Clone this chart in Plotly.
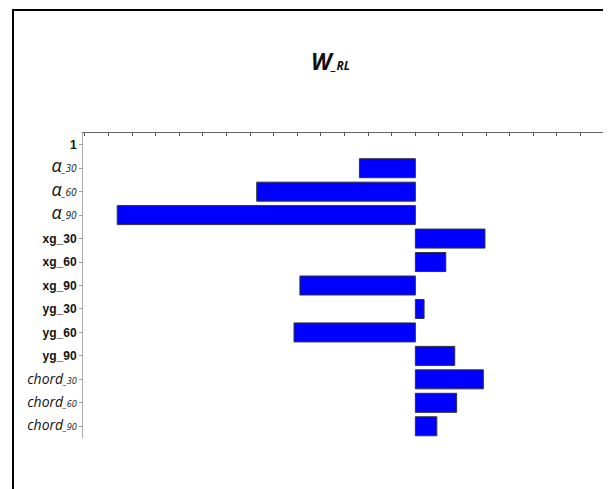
import plotly.graph_objects as go

categories = ["1", "alpha_30", "alpha_60", "alpha_90", "xg_30", "xg_60", "xg_90",
              "yg_30", "yg_60", "yg_90", "chord_30", "chord_60", "chord_90"]
values = [0.0, -2.37, -6.72, -12.63, 2.95, 1.29, -4.89,
          0.37, -5.14, 1.67, 2.88, 1.75, 0.91]

BOLD = "font-family:'Liberation Sans';font-weight:bold;font-size:12px"
def ital(main, sub, main_size, sub_size):
    return (f"<span style=\"font-family:'Open Sans';font-style:italic;font-size:{main_size}px\">{main}</span>"
            f"<span style=\"font-family:'Open Sans';font-style:italic;font-size:{sub_size}px\">_{sub}</span>")

tick_labels = [
    f"<span style=\"{BOLD}\">1</span>",
    ital("α", "30", 18, 10),
    ital("α", "60", 18, 10),
    ital("α", "90", 18, 10),
    f"<span style=\"{BOLD}\">xg_30</span>",
    f"<span style=\"{BOLD}\">xg_60</span>",
    f"<span style=\"{BOLD}\">xg_90</span>",
    f"<span style=\"{BOLD}\">yg_30</span>",
    f"<span style=\"{BOLD}\">yg_60</span>",
    f"<span style=\"{BOLD}\">yg_90</span>",
    ital("chord", "30", 14, 9),
    ital("chord", "60", 14, 9),
    ital("chord", "90", 14, 9),
]

# page has an 8px body margin; page px = figure px + 8
OFF = 8
W, H = 603, 481
L, R, T, B = 83 - OFF, 8, 133 - OFF, 51
pw, ph = W - L - R, H - T - B

def px_x(p):
    return (p - OFF - L) / pw

def px_y(p):
    return (H - B - (p - OFF)) / ph

line_widths = [0 if v == 0 else 1 for v in values]

fig = go.Figure(go.Bar(
    x=values, y=categories, orientation="h",
    marker=dict(color="#0000FF", line=dict(color="#333333", width=line_widths)),
    width=0.81,
))

fig.update_layout(
    width=W, height=H,
    margin=dict(l=L, r=R, t=T, b=B),
    paper_bgcolor="white", plot_bgcolor="white",
    showlegend=False,
    title=dict(
        text="<span style=\"font-family:'Open Sans';font-style:italic;font-weight:bold;font-size:23px\">W</span>"
             "<span style=\"font-family:'Open Sans';font-style:italic;font-weight:bold;font-size:12px\">_RL</span>",
        x=px_x(311), xref="paper", xanchor="left",
        y=1 - (64 - OFF) / H, yref="container", yanchor="middle",
        font=dict(color="#111111"),
    ),
    xaxis=dict(
        side="top", range=[-14.08, 7.95], tickmode="linear", tick0=0, dtick=1,
        showticklabels=False, ticks="inside", ticklen=3, tickcolor="#555555",
        showline=True, linecolor="#666666", linewidth=1,
        showgrid=False, zeroline=False,
    ),
    yaxis=dict(
        type="category", categoryorder="array", categoryarray=categories,
        range=[12.5, -0.5],
        tickmode="array", tickvals=categories, ticktext=tick_labels,
        ticks="outside", ticklen=3, tickcolor="#999999",
        showline=True, linecolor="#aaaaaa", linewidth=1,
        showgrid=False, zeroline=False,
        tickfont=dict(color="#111111", size=12, family="Liberation Sans"),
    ),
    shapes=[dict(
        type="rect", xref="paper", yref="paper",
        x0=px_x(13), x1=px_x(604), y0=px_y(10), y1=px_y(500),
        line=dict(color="black", width=2), fillcolor="rgba(0,0,0,0)", layer="above",
    )],
)

fig.write_html("out.html")
